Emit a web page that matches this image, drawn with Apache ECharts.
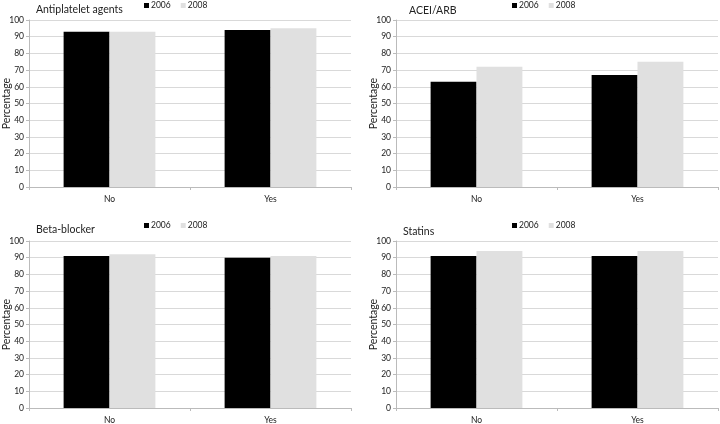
<!DOCTYPE html>
<html>
<head>
<meta charset="utf-8">
<script src="https://cdn.jsdelivr.net/npm/echarts@6/dist/echarts.min.js"></script>
<style>html,body{margin:0;padding:0;background:#fff}#c{width:720px;height:424px}</style>
</head>
<body>
<div id="c"></div>
<script>
const categories = ['No', 'Yes'];
const panelTitles = ['Antiplatelet agents', 'ACEI/ARB', 'Beta-blocker', 'Statins'];
const seriesNames = ['2006', '2008'];
const antiplatelet2006 = [93, 94];
const antiplatelet2008 = [93, 95];
const acei2006 = [63, 67];
const acei2008 = [72, 75];
const beta2006 = [91, 90];
const beta2008 = [92, 91];
const statins2006 = [91, 91];
const statins2008 = [94, 94];
const yTicks = [0, 10, 20, 30, 40, 50, 60, 70, 80, 90, 100];

const panelData = [
  [antiplatelet2006, antiplatelet2008],
  [acei2006, acei2008],
  [beta2006, beta2008],
  [statins2006, statins2008]
];
const colors = ['#000000', '#e0e0e0'];
const font = 'Lato, sans-serif';
const grids = [
  {left: 29, top: 20, width: 322, height: 167},
  {left: 396, top: 20, width: 322, height: 167},
  {left: 29, top: 241, width: 322, height: 167},
  {left: 396, top: 241, width: 322, height: 167}
];
const titlePos = [
  {left: 36, top: 4},
  {left: 409, top: 5},
  {left: 36, top: 224},
  {left: 403, top: 226}
];
const legendPos = [
  {left: 144, top: 1},
  {left: 512, top: 1},
  {left: 144, top: 221},
  {left: 512, top: 221}
];

const option = {
  backgroundColor: '#fff',
  animation: false,
  title: panelTitles.map((t, i) => ({
    text: t, left: titlePos[i].left, top: titlePos[i].top, padding: 0,
    textStyle: {fontFamily: font, fontSize: 10.5, fontWeight: 'normal', color: '#222'}
  })),
  legend: legendPos.map((p, i) => ({
    data: seriesNames, left: p.left, top: p.top, padding: 0,
    itemWidth: 5, itemHeight: 5, itemGap: 10, icon: 'rect',
    textStyle: {fontFamily: font, fontSize: 8.5, color: '#222', padding: [0, 0, 0, -3]},
    selectedMode: false
  })),
  grid: grids.map(g => Object.assign({containLabel: false, outerBoundsMode: 'none'}, g)),
  xAxis: grids.map((g, i) => ({
    type: 'category', gridIndex: i, data: categories,
    axisLine: {lineStyle: {color: '#bbbbbb'}},
    axisTick: {show: true, length: 3, lineStyle: {color: '#bbbbbb'}},
    axisLabel: {fontFamily: font, fontSize: 8.5, color: '#222', margin: 8}
  })),
  yAxis: grids.map((g, i) => ({
    type: 'value', gridIndex: i, min: 0, max: 100, interval: 10,
    name: 'Percentage', nameLocation: 'middle', nameGap: 17, nameRotate: 90,
    nameMoveOverlap: false,
    nameTextStyle: {fontFamily: font, fontSize: 10.5, color: '#222'},
    axisLine: {show: true, lineStyle: {color: '#bbbbbb'}},
    axisTick: {show: true, length: 3, lineStyle: {color: '#bbbbbb'}},
    axisLabel: {fontFamily: font, fontSize: 8.5, color: '#222', margin: 5},
    splitLine: {show: true, lineStyle: {color: '#d9d9d9'}}
  })),
  series: []
};
panelData.forEach((pd, i) => {
  pd.forEach((vals, j) => {
    option.series.push({
      type: 'bar', name: seriesNames[j], xAxisIndex: i, yAxisIndex: i,
      data: vals, barGap: '0%', barCategoryGap: '43%',
      itemStyle: {color: colors[j]}
    });
  });
});
const chart = echarts.init(document.getElementById('c'), null, {renderer: 'canvas'});
chart.setOption(option);
</script>
</body>
</html>
